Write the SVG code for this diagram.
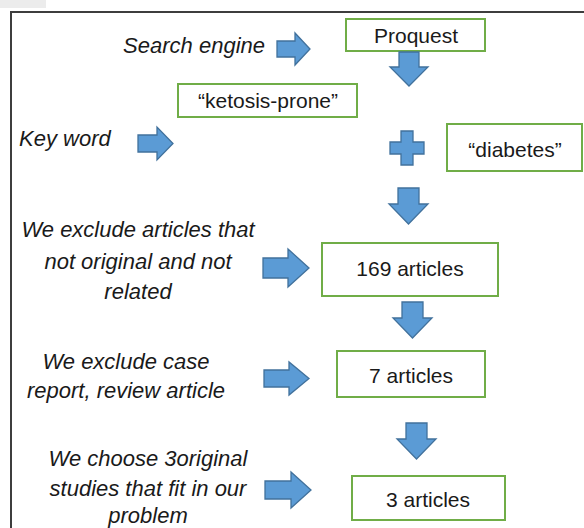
<svg xmlns="http://www.w3.org/2000/svg" width="584" height="528" viewBox="0 0 584 528">
<style>
.box{fill:#fff;stroke:#70ad47;stroke-width:2}
.bt{font-family:"Liberation Sans",Arial,sans-serif;font-size:21px;fill:#1a1a1a;text-anchor:middle}
.lb{font-family:"Liberation Sans",Arial,sans-serif;font-size:22px;font-style:italic;fill:#1a1a1a}
.ar{fill:#5b9bd5;stroke:#41719c;stroke-width:1.3}
</style>
<rect x="0" y="0" width="584" height="528" fill="#fff"/>
<rect x="0" y="0" width="46" height="8" fill="#ececec"/>
<rect x="11" y="12" width="600" height="600" fill="none" stroke="#3d3d3d" stroke-width="2"/>

<g id="labels">
<text class="lb" x="265" y="53" text-anchor="end">Search engine</text>
<text class="lb" x="19" y="146">Key word</text>
<text class="lb" text-anchor="middle"><tspan x="138" y="237">We exclude articles that</tspan><tspan x="138" y="269">not original and not</tspan><tspan x="138" y="299">related</tspan></text>
<text class="lb" text-anchor="middle"><tspan x="126" y="369">We exclude case</tspan><tspan x="126" y="398">report, review article</tspan></text>
<text class="lb" text-anchor="middle"><tspan x="148" y="466">We choose 3original</tspan><tspan x="148" y="496">studies that fit in our</tspan><tspan x="148" y="523">problem</tspan></text>
</g>

<g id="proquest"><rect class="box" x="346" y="19" width="139" height="32"/><text class="bt" x="416" y="43">Proquest</text></g>
<g id="ketosis"><rect class="box" x="178" y="84" width="179" height="33"/><text class="bt" x="268" y="108">“ketosis-prone”</text></g>
<g id="diabetes"><rect class="box" x="447" y="124" width="135" height="47"/><text class="bt" x="515" y="157">“diabetes”</text></g>
<g id="a169"><rect class="box" x="322" y="243" width="176" height="53"/><text class="bt" x="410" y="276">169 articles</text></g>
<g id="a7"><rect class="box" x="337" y="351" width="148" height="46"/><text class="bt" x="411" y="383">7 articles</text></g>
<g id="a3"><rect class="box" x="352" y="476" width="153" height="44"/><text class="bt" x="428" y="507">3 articles</text></g>

<g id="connectors">
<path class="ar" d="M277 41H295V33L310 49L295 65V57H277Z"/>
<path class="ar" d="M138 135H157V127L173 143.5L157 160V152H138Z"/>
<path class="ar" d="M263 258H288V249L309 268L288 287V278H263Z"/>
<path class="ar" d="M264 370H289V362L309 378.5L289 395V387H264Z"/>
<path class="ar" d="M265 481H291V472L311 490L291 508V499H265Z"/>
<path class="ar" d="M399 52H419V67H428L409 86L390 67H399Z"/>
<path class="ar" d="M398 188H419V204H428L408.5 224L389 204H398Z"/>
<path class="ar" d="M402 302H423V318H432L412.5 338L393 318H402Z"/>
<path class="ar" d="M406 423H427V439H436L416.5 459L397 439H406Z"/>
<path class="ar" d="M401 131H413V142H424V154H413V165H401V154H390V142H401Z"/>
</g>
</svg>
